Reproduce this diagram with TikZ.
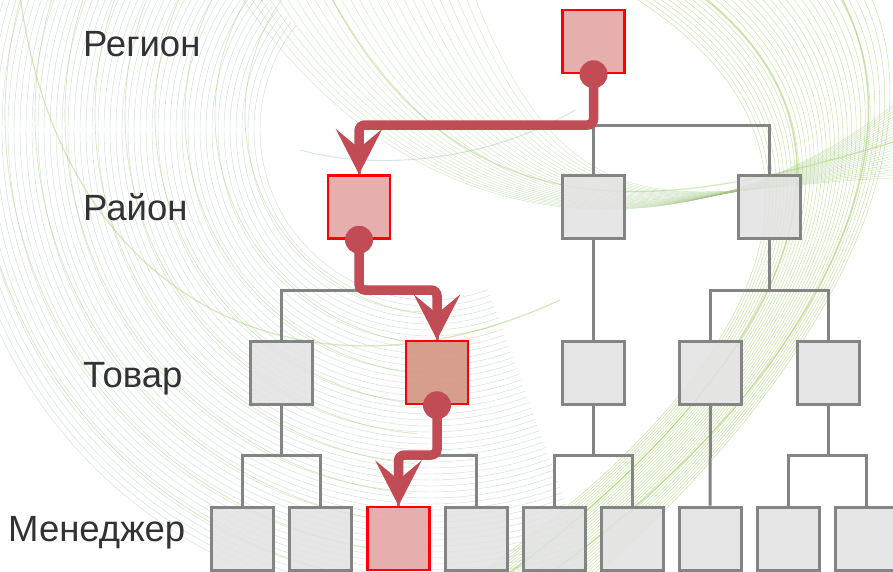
\documentclass[tikz,border=0pt]{standalone}
\usepackage{fontspec}
\setmainfont{Liberation Sans}
\usetikzlibrary{arrows.meta}
\definecolor{boxgray}{RGB}{226,226,226}
\definecolor{linegray}{RGB}{132,132,132}
\definecolor{pathred}{RGB}{193,76,86}
\definecolor{boxred}{RGB}{230,168,168}
\definecolor{boxredb}{RGB}{212,150,132}
\definecolor{labelgray}{RGB}{50,50,50}
\definecolor{bggreen}{RGB}{160,205,100}
\definecolor{bggray}{RGB}{150,180,165}
\begin{document}
\begin{tikzpicture}[x=1pt,y=-1pt,
  gbox/.style={draw=linegray,fill=boxgray,fill opacity=0.85,line width=3pt,minimum width=62pt,minimum height=63pt,inner sep=0pt},
  rbox/.style={draw=red,fill=boxred,fill opacity=0.92,line width=2.5pt,minimum width=62pt,minimum height=63pt,inner sep=0pt},
  tree/.style={draw=linegray,line width=3pt},
  redpath/.style={draw=pathred,line width=9.5pt,rounded corners=6pt,-{Stealth[length=45pt,width=46pt,inset=19pt]}},
  reddot/.style={circle,fill=pathred,minimum size=28pt,inner sep=0pt},
  lbl/.style={text=labelgray,font=\fontsize{36.5pt}{40pt}\selectfont,anchor=base west,inner sep=0pt},
  bgA/.style={line width=0.45pt,draw=bggray,opacity=0.42},
  bgAg/.style={line width=0.7pt,draw=bggreen,opacity=0.45},
  bgB/.style={line width=0.55pt,draw=bggreen,opacity=0.5},
  bgC/.style={line width=0.45pt,draw=bggreen!60!bggray,opacity=0.42},
]
\useasboundingbox (0,0) rectangle (893,571);
\clip (0,0) rectangle (893,571);
\fill[white] (0,0) rectangle (893,571);
% background swirl
\foreach \r in {170,176,...,476} {
  \draw[bgA] plot[domain=70:218,samples=40,smooth] ({430+\r*cos(\x)},{130+\r*sin(\x)});
}
\foreach \r in {200,230,...,470} {
  \draw[bgAg] plot[domain=95:225,samples=40,smooth] ({445+\r*cos(\x)},{115+\r*sin(\x)});
}
\foreach \k in {0,...,30} {
  \draw[bgB] (630+8*\k,-5) .. controls (880+2*\k,150) and (760+2*\k,380) .. (470+4*\k,580);
}
\foreach \k in {0,...,26} {
  \draw[bgC] (240+9*\k,-5) .. controls (420+6*\k,260) and (700,260-3*\k) .. (900,100+3*\k);
}
\draw[line width=1.4pt,draw=bggreen,opacity=0.55] (700,-5) .. controls (900,150) and (770,380) .. (500,580);
\draw[line width=1.4pt,draw=bggreen,opacity=0.55] (840,-5) .. controls (930,160) and (800,400) .. (540,580);
\draw[line width=1.2pt,draw=bggreen,opacity=0.45] (330,-5) .. controls (470,260) and (700,200) .. (900,140);
\draw[line width=1pt,draw=bggray,opacity=0.35] (300,150) .. controls (380,172) and (490,160) .. (575,110);
\draw[line width=1.2pt,draw=bggreen,opacity=0.45] (20,-5) .. controls (60,300) and (300,420) .. (560,300);

% labels
\node[lbl] (lreg) at (83,56) {Регион};
\node[lbl] (lray) at (83,220) {Район};
\node[lbl] (ltov) at (83,387) {Товар};
\node[lbl] (lman) at (8,541) {Менеджер};

% level coordinates
\coordinate (L1) at (0,125);
\coordinate (L2) at (0,290);
\coordinate (L3) at (0,455);

% boxes
\node[rbox] (reg) at (593.5,41.5) {};
\node[rbox] (d1) at (359,207) {};
\node[gbox] (d2) at (593.5,207) {};
\node[gbox] (d3) at (769.5,207) {};
\node[gbox] (t1) at (281,372.5) {};
\node[rbox,fill=boxredb] (t2) at (437,372.5) {};
\node[gbox] (t3) at (593.5,372.5) {};
\node[gbox] (t4) at (710.5,372.5) {};
\node[gbox] (t5) at (828,372.5) {};
\node[gbox] (m1) at (242,538.5) {};
\node[gbox] (m2) at (320,538.5) {};
\node[rbox] (m3) at (398.5,538.5) {};
\node[gbox] (m4) at (476,538.5) {};
\node[gbox] (m5) at (554.5,538.5) {};
\node[gbox] (m6) at (632,538.5) {};
\node[gbox] (m7) at (710,538.5) {};
\node[gbox] (m8) at (788.5,538.5) {};
\node[gbox] (m9) at (866,538.5) {};

% gray tree
\draw[tree] (reg.south) -- (d2.north);
\draw[tree] (d1.north) |- (d3.north |- L1) -- (d3.north);
\draw[tree] (d1.south) -- (d1.south |- L2);
\draw[tree] (t1.north) |- (t2.north |- L2) -- (t2.north);
\draw[tree] (d2.south) -- (t3.north);
\draw[tree] (d3.south) -- (d3.south |- L2);
\draw[tree] (t4.north) |- (t5.north |- L2) -- (t5.north);
\draw[tree] (t1.south) -- (t1.south |- L3);
\draw[tree] (m1.north) |- (m2.north |- L3) -- (m2.north);
\draw[tree] (t2.south) -- (t2.south |- L3);
\draw[tree] (m3.north) |- (m4.north |- L3) -- (m4.north);
\draw[tree] (t3.south) -- (t3.south |- L3);
\draw[tree] (m5.north) |- (m6.north |- L3) -- (m6.north);
\draw[tree] (t4.south) -- (m7.north);
\draw[tree] (t5.south) -- (t5.south |- L3);
\draw[tree] (m8.north) |- (m9.north |- L3) -- (m9.north);

% red path
\draw[redpath] (reg.south) -- (reg.south |- L1) -- (d1.north |- L1) -- (d1.north);
\draw[redpath] (d1.south) -- (d1.south |- L2) -- (t2.north |- L2) -- (t2.north);
\draw[redpath] (t2.south) -- (t2.south |- L3) -- (m3.north |- L3) -- (m3.north);
\node[reddot] (c1) at (reg.south) {};
\node[reddot] (c2) at (d1.south) {};
\node[reddot] (c3) at (t2.south) {};
\end{tikzpicture}
\end{document}
